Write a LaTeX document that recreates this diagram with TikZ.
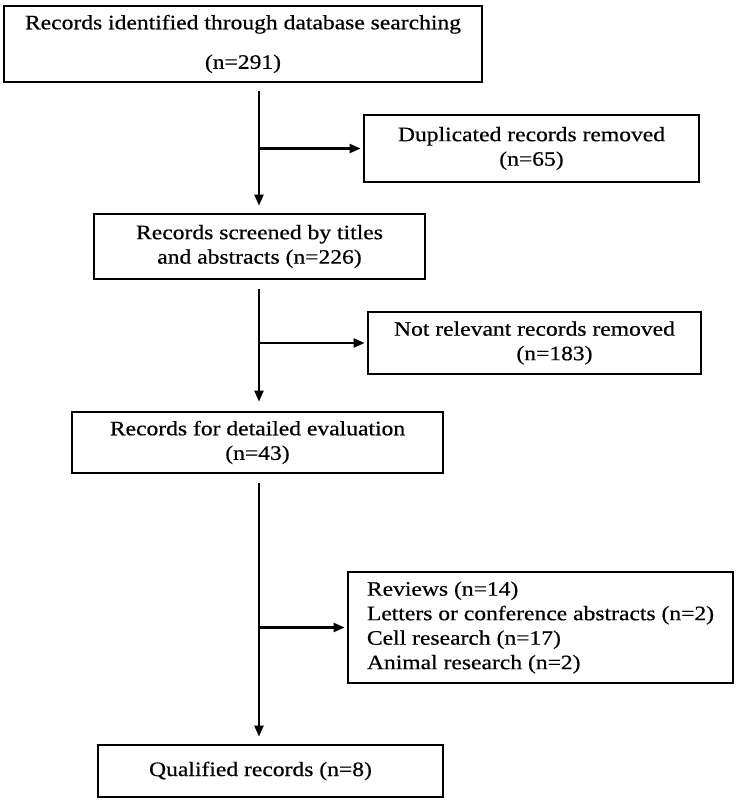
\documentclass[tikz,border=0pt]{standalone}
\usepackage{fontspec}
\setmainfont{Liberation Serif}[FakeStretch=1.15,FakeBold=0.5]
\usetikzlibrary{arrows.meta}
\begin{document}
\begin{tikzpicture}[x=1pt,y=1pt,
  box/.style={draw, line width=2.8pt, inner sep=0pt, align=center,
    font=\fontsize{20.5}{24.5}\selectfont},
  arr/.style={line width=2.2pt, -{Triangle[length=11pt,width=9pt]}},
  ln/.style={line width=2.2pt}]
\useasboundingbox[fill=white] (0,0) rectangle (739,-803);
\node[box, minimum width=478pt, minimum height=76pt] (b1) at (243,-44)
  {Records identified through database searching\\[15pt](n=291)};
\node[box, minimum width=335pt, minimum height=67pt] (dup) at (531.5,-148.5)
  {Duplicated records removed\\(n=65)};
\node[box, minimum width=331pt, minimum height=65pt] (b2) at (259.5,-246.5)
  {Records screened by titles\\and abstracts (n=226)};
\node[box, minimum width=333pt, minimum height=62pt] (nr) at (534.5,-343)
  {Not relevant records removed\\\hspace*{40pt}(n=183)};
\node[box, minimum width=371pt, minimum height=61pt] (b3) at (257.5,-442.5)
  {Records for detailed evaluation\\(n=43)};
\node[box, align=left, minimum width=385pt, minimum height=111pt] (ex) at (540.5,-627.5)
  {Reviews (n=14)\\Letters or conference abstracts (n=2)\\Cell research (n=17)\\Animal research (n=2)};
\node[box, minimum width=345pt, minimum height=52pt] (b5) at (270.5,-771)
  {\hspace*{-20pt}Qualified records (n=8)};
% spine points
\coordinate (s1) at (259,-91);
\coordinate (s2) at (259,-289);
\coordinate (s3) at (259,-483);
\draw[arr, shorten >=7pt] (s1) -- (s1 |- b2.north);
\draw[arr, shorten >=2pt] (s1 |- dup.west) -- (dup.west);
\draw[arr, shorten >=9pt] (s2) -- (s2 |- b3.north);
\draw[arr, shorten >=2pt] (s2 |- nr.west) -- (nr.west);
\draw[arr, shorten >=7pt] (s3) -- (s3 |- b5.north);
\draw[arr, shorten >=2pt] (s3 |- ex.west) -- (ex.west);
\end{tikzpicture}
\end{document}
